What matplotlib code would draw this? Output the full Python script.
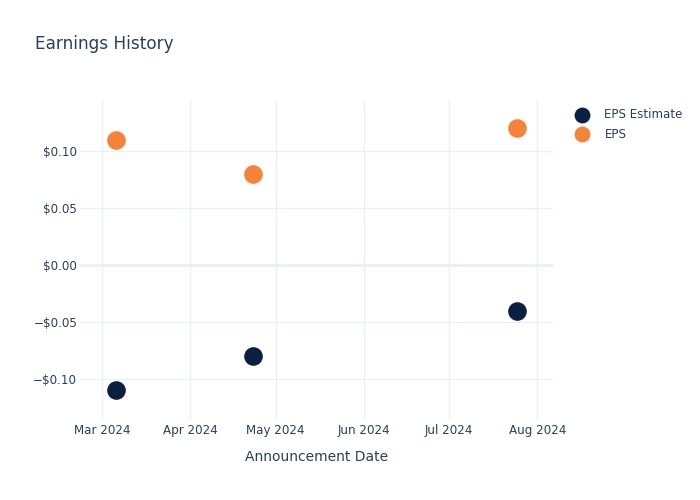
import matplotlib
matplotlib.use("Agg")
import matplotlib.pyplot as plt
import matplotlib.dates as mdates
from matplotlib.ticker import FuncFormatter, FixedLocator
from datetime import datetime

# data
dates = ["2024-03-06", "2024-04-23", "2024-07-25"]
eps_estimate = [-0.11, -0.08, -0.04]
eps_actual = [0.11, 0.08, 0.12]

TEXT = "#2a3f5f"
GRID = "#ebf0f8"

x = [datetime.strptime(d, "%Y-%m-%d") for d in dates]

plt.rcParams["font.family"] = ["DejaVu Sans"]
fig = plt.figure(figsize=(7, 5), dpi=100)
ax = fig.add_axes([0.1143, 0.16, 0.676, 0.64])

ax.scatter(x, eps_estimate, s=180, color="#0b1f41", label="EPS Estimate", zorder=3, linewidths=0)
ax.scatter(x, eps_actual, s=180, color="#f7833a", label="EPS", zorder=3, linewidths=0)

ax.set_xlim(datetime(2024, 2, 22, 6), datetime(2024, 8, 6, 14))
ax.set_ylim(-0.136, 0.1447)

ax.xaxis.set_major_locator(mdates.MonthLocator())
ax.xaxis.set_major_formatter(mdates.DateFormatter("%b %Y"))
ax.yaxis.set_major_locator(FixedLocator([-0.10, -0.05, 0.0, 0.05, 0.10]))


def money(v, pos):
    if abs(v) < 1e-9:
        return "$0.00"
    s = "$%.2f" % abs(v)
    return ("\u2212" + s) if v < 0 else s


ax.yaxis.set_major_formatter(FuncFormatter(money))

ax.grid(True, color=GRID, linewidth=1)
ax.axhline(0, color=GRID, linewidth=2, zorder=1)
for s in ax.spines.values():
    s.set_visible(False)
ax.tick_params(length=0, colors=TEXT, labelsize=8.6)
ax.tick_params(axis="x", pad=3)
ax.tick_params(axis="y", pad=2)
ax.set_axisbelow(True)

ax.set_xlabel("Announcement Date", color=TEXT, fontsize=10, labelpad=9)
fig.text(0.05, 0.912, "Earnings History", color=TEXT, fontsize=12.2, va="center")

leg = ax.legend(loc="upper left", bbox_to_anchor=(1.025, 0.99), frameon=False,
                fontsize=8.6, labelcolor=TEXT, handletextpad=0.9,
                labelspacing=0.55, borderaxespad=0, markerscale=0.85)

fig.savefig("out.png", dpi=100)
